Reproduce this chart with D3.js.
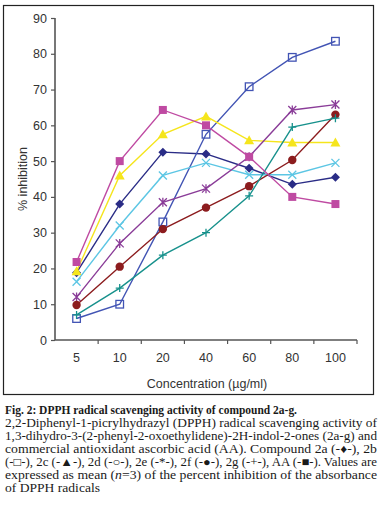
<!DOCTYPE html>
<html><head><meta charset="utf-8">
<script src="https://cdn.jsdelivr.net/npm/d3@7"></script>
<style>html,body{margin:0;padding:0;background:#fff;}svg{display:block;}</style>
</head><body>
<svg id="c" width="381" height="509"></svg>
<script>
const categories = ["5","10","20","40","60","80","100"];
const yTicks = [0,10,20,30,40,50,60,70,80,90];
const s2a = [18.8, 38, 52.5, 52, 48, 43.5, 45.5];
const s2b = [6, 10, 33, 57.5, 70.8, 79, 83.5];
const s2c = [19.2, 46, 57.5, 62.5, 55.8, 55.2, 55.2];
const s2d = [16.3, 32, 46, 49.5, 46.2, 46.2, 49.5];
const s2e = [12, 27, 38.5, 42.3, 51.2, 64.3, 65.8];
const s2f = [9.8, 20.5, 31, 37, 43, 50.3, 63];
const s2g = [7, 14.5, 23.7, 30, 40.3, 59.5, 62];
const sAA = [21.8, 50, 64.3, 60, 51.2, 40, 38];
const seriesNames = ["2a","2b","2c","2d","2e","2f","2g","AA"];
const xLabel = "Concentration (\u00b5g/ml)";
const yLabel = "% inhibition";

const series = [
  {name:"2a", v:s2a, color:"#2a2c86", mk:"diamond"},
  {name:"2b", v:s2b, color:"#4254b4", mk:"opensquare"},
  {name:"2c", v:s2c, color:"#f5e51c", mk:"triangle"},
  {name:"2d", v:s2d, color:"#5cc6e4", mk:"x"},
  {name:"2e", v:s2e, color:"#8a3c98", mk:"asterisk"},
  {name:"2f", v:s2f, color:"#8c1c1e", mk:"circle"},
  {name:"2g", v:s2g, color:"#17918c", mk:"plus"},
  {name:"AA", v:sAA, color:"#bf4aa2", mk:"square"}
];

const svg = d3.select("#c");
// outer frame
svg.append("rect").attr("x",3.5).attr("y",5.5).attr("width",370).attr("height",389)
  .attr("fill","none").attr("stroke","#222").attr("stroke-width",1.2);

const x = d3.scaleBand().domain(categories).range([55,357]);
const y = d3.scaleLinear().domain([0,90]).range([340,18]);

// x axis
const xAxis = d3.axisBottom(x).tickSize(0).tickPadding(0);
const gx = svg.append("g").attr("transform","translate(0,340)");
gx.append("line").attr("x1",55).attr("x2",357).attr("stroke","#555").attr("stroke-width",1.6);
const bounds = categories.map(c=>x(c)).concat([x.range()[1]]).slice(1);
gx.selectAll("line.t").data(bounds).enter().append("line").attr("class","t")
  .attr("x1",d=>d).attr("x2",d=>d).attr("y1",0).attr("y2",4).attr("stroke","#555").attr("stroke-width",1.2);
gx.selectAll("text").data(categories).enter().append("text")
  .attr("x",d=>x(d)+x.bandwidth()/2).attr("y",22).attr("text-anchor","middle")
  .attr("font-family","Liberation Sans, Arial, sans-serif").attr("font-size",12.5).attr("fill","#333").text(d=>d);

// y axis
const gy = svg.append("g").attr("transform","translate(55,0)");
gy.call(d3.axisLeft(y).tickValues(yTicks).tickSize(4).tickPadding(4));
gy.select(".domain").attr("stroke","#555").attr("stroke-width",1.6).attr("d","M0,"+y(90)+"V"+y(0));
gy.selectAll(".tick line").attr("stroke","#555").attr("stroke-width",1.2);
gy.selectAll(".tick text").attr("font-family","Liberation Sans, Arial, sans-serif").attr("font-size",12.5).attr("fill","#333");

svg.append("text").attr("transform","translate(27,179) rotate(-90)").attr("text-anchor","middle")
  .attr("font-family","Liberation Sans, Arial, sans-serif").attr("font-size",12.5).attr("fill","#333").text(yLabel);
svg.append("text").attr("x",207).attr("y",388).attr("text-anchor","middle")
  .attr("font-family","Liberation Sans, Arial, sans-serif").attr("font-size",12.5).attr("fill","#333").text(xLabel);

const cx = c => x(c)+x.bandwidth()/2;
const line = d3.line().x((d,i)=>cx(categories[i])).y(d=>y(d));

function marker(g, mk, color, px, py){
  const s = 4;
  switch(mk){
    case "diamond":
      g.append("path").attr("d",`M${px},${py-4.5}L${px+4.5},${py}L${px},${py+4.5}L${px-4.5},${py}Z`).attr("fill",color);break;
    case "opensquare":
      g.append("rect").attr("x",px-3.8).attr("y",py-3.8).attr("width",7.6).attr("height",7.6).attr("fill","#fff").attr("fill-opacity",0).attr("stroke",color).attr("stroke-width",1.3);break;
    case "triangle":
      g.append("path").attr("d",`M${px},${py-5}L${px+5},${py+4}L${px-5},${py+4}Z`).attr("fill",color);break;
    case "x":
      g.append("path").attr("d",`M${px-s},${py-s}L${px+s},${py+s}M${px-s},${py+s}L${px+s},${py-s}`).attr("stroke",color).attr("stroke-width",1.3);break;
    case "asterisk":
      g.append("path").attr("d",`M${px-s},${py-s}L${px+s},${py+s}M${px-s},${py+s}L${px+s},${py-s}M${px},${py-s-0.5}L${px},${py+s+0.5}`).attr("stroke",color).attr("stroke-width",1.3);break;
    case "circle":
      g.append("circle").attr("cx",px).attr("cy",py).attr("r",4.2).attr("fill",color);break;
    case "plus":
      g.append("path").attr("d",`M${px-s},${py}L${px+s},${py}M${px},${py-s}L${px},${py+s}`).attr("stroke",color).attr("stroke-width",1.3);break;
    case "square":
      g.append("rect").attr("x",px-4).attr("y",py-4).attr("width",8).attr("height",8).attr("fill",color);break;
  }
}

series.forEach(s=>{
  const g = svg.append("g");
  g.append("path").datum(s.v).attr("d",line).attr("fill","none").attr("stroke",s.color).attr("stroke-width",1.4);
  s.v.forEach((v,i)=>marker(g, s.mk, s.color, cx(categories[i]), y(v)));
});

// caption
const cap = svg.append("g").attr("font-family","Liberation Serif, Times New Roman, serif").attr("font-size",12).attr("fill","#1a1a1a");
cap.append("text").attr("x",5).attr("y",414).attr("font-weight","bold").attr("textLength",292).attr("lengthAdjust","spacingAndGlyphs")
  .text("Fig. 2: DPPH radical scavenging activity of compound 2a-g.");
const capLines = [
  "2,2-Diphenyl-1-picrylhydrazyl (DPPH) radical scavenging activity of",
  "1,3-dihydro-3-(2-phenyl-2-oxoethylidene)-2H-indol-2-ones (2a-g) and",
  "commercial antioxidant ascorbic acid (AA). Compound 2a (-\u2666-), 2b",
  "(-\u25a1-), 2c (-\u25b2-), 2d (-\u25cb-), 2e (-*-), 2f (-\u25cf-), 2g (-+-), AA (-\u25a0-). Values are"
];
capLines.forEach((t,i)=>{
  cap.append("text").attr("x",5).attr("y",427+i*13).attr("textLength",372).attr("lengthAdjust","spacingAndGlyphs").text(t);
});
const l6 = cap.append("text").attr("x",5).attr("y",479).attr("textLength",372).attr("lengthAdjust","spacingAndGlyphs");
l6.append("tspan").text("expressed as mean (");
l6.append("tspan").attr("font-style","italic").text("n");
l6.append("tspan").text("=3) of the percent inhibition of the absorbance");
cap.append("text").attr("x",5).attr("y",492).attr("textLength",95).attr("lengthAdjust","spacingAndGlyphs").text("of DPPH radicals");
</script>
</body></html>
